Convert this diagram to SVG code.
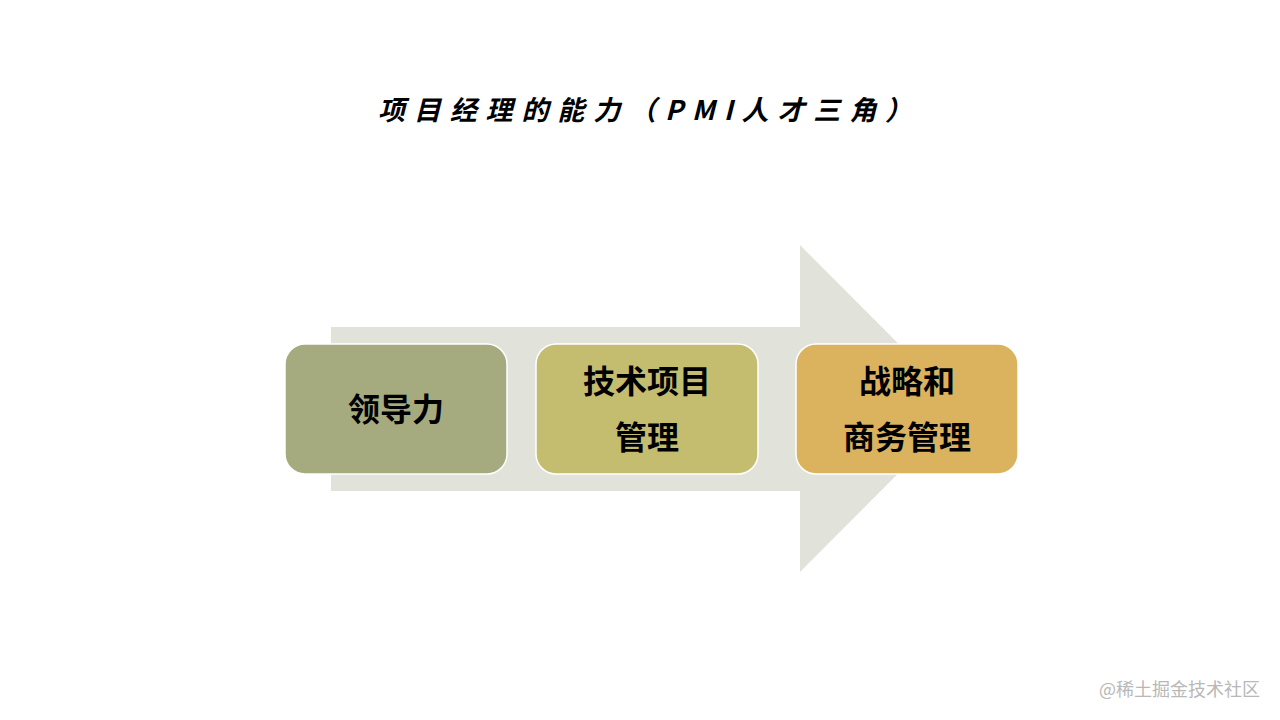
<svg xmlns="http://www.w3.org/2000/svg" width="1280" height="720" viewBox="0 0 1280 720">
<style>
.box{stroke:#ffffff;stroke-width:1.5}
.lbl{font-family:"Noto Sans CJK SC","Noto Sans",sans-serif;font-weight:bold;font-size:32px;fill:#000;text-anchor:middle}
.title{font-family:"Noto Sans CJK SC","Noto Sans",sans-serif;font-weight:bold;font-style:italic;font-size:27px;fill:#000}
.wm{font-family:"Noto Sans CJK SC","Noto Sans",sans-serif;font-size:18px;fill:#b8b8b8}
</style>
<rect width="1280" height="720" fill="#ffffff"/>
<text class="title" x="378" y="120" textLength="534" lengthAdjust="spacing">项目经理的能力（PMI人才三角）</text>
<g id="connectors">
<polygon points="331,327 800,327 800,245 963,408.5 800,572 800,491 331,491" fill="#e1e2da"/>
</g>
<g id="node1">
<rect class="box" x="285" y="344" width="222" height="130" rx="20" fill="#a6ab7f"/>
<text class="lbl" x="396" y="421">领导力</text>
</g>
<g id="node2">
<rect class="box" x="536" y="344" width="222" height="130" rx="20" fill="#c4bd6f"/>
<text class="lbl" x="647" y="393">技术项目</text>
<text class="lbl" x="647" y="449">管理</text>
</g>
<g id="node3">
<rect class="box" x="796" y="344" width="222" height="130" rx="20" fill="#dbb25e"/>
<text class="lbl" x="907" y="393">战略和</text>
<text class="lbl" x="907" y="449">商务管理</text>
</g>
<text class="wm" x="1099" y="696">@稀土掘金技术社区</text>
</svg>
